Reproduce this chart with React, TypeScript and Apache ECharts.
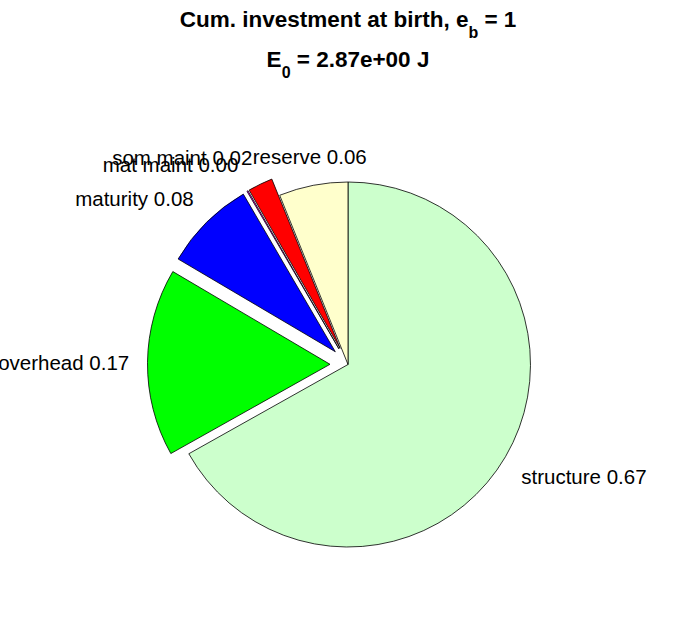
import { useEffect, useRef } from 'react';
import * as echarts from 'echarts';

const names = ['structure', 'overhead', 'maturity', 'mat maint', 'som maint', 'reserve'];
const values = [0.668, 0.166, 0.081, 0.001, 0.022, 0.061];
const colors = ['#ccffcc', '#00ff00', '#0000ff', '#ff00ff', '#ff0000', '#ffffcc'];
const exploded = [false, true, true, true, true, false];
const titleLine1 = ['Cum. investment at birth, e', 'b', ' = 1'];
const titleLine2 = ['E', '0', ' = 2.87e+00 J'];

const FONT = 'Liberation Sans, Arial, Helvetica, sans-serif';
const R = 182.5;

export default function App() {
  const ref = useRef<HTMLDivElement>(null);
  useEffect(() => {
    if (!ref.current) return;
    const chart = echarts.init(ref.current, null, { renderer: 'svg' });
    const total = values.reduce((a, b) => a + b, 0);
    let acc = 0;
    const hAlign: string[] = [];
    const vAlign: string[] = [];
    values.forEach((v) => {
      const m = ((acc + v / 2) / total) * Math.PI * 2;
      acc += v;
      const dx = Math.sin(m);
      const dy = -Math.cos(m);
      hAlign.push(Math.abs(dx) < 0.3 ? 'center' : dx > 0 ? 'left' : 'right');
      vAlign.push(Math.abs(dy) < 0.3 ? 'middle' : dy > 0 ? 'top' : 'bottom');
    });
    const mainStyle = { fontSize: 22.5, fontWeight: 'bold', fontFamily: FONT, color: '#000' };
    const subStyle = { fontSize: 16, fontWeight: 'bold', fontFamily: FONT, color: '#000', padding: [25, 0, 0, 0] };
    const mkTitle = (parts: string[], top: number) => ({
      left: 'center',
      top,
      padding: 0,
      text: `{m|${parts[0]}}{s|${parts[1]}}{m|${parts[2]}}`,
      textStyle: { rich: { m: mainStyle, s: subStyle } },
    });
    chart.setOption({
      animation: false,
      backgroundColor: '#ffffff',
      title: [mkTitle(titleLine1, -1), mkTitle(titleLine2, 39)],
      series: [
        {
          type: 'pie',
          center: [348, 364.5],
          radius: R,
          startAngle: 90,
          clockwise: true,
          selectedMode: 'multiple',
          selectedOffset: 18,
          avoidLabelOverlap: false,
          emphasis: { disabled: true },
          itemStyle: { borderColor: '#000', borderWidth: 0.8 },
          label: {
            show: true,
            position: 'outside',
            fontSize: 20.5,
            fontFamily: FONT,
            color: '#000',
            distanceToLabelLine: 0,
            formatter: (p: any) => `${p.name} ${p.value.toFixed(2)}`,
          },
          labelLine: { show: false, length: R * 0.1, length2: 0 },
          labelLayout: (p: any) => ({ align: hAlign[p.dataIndex], verticalAlign: vAlign[p.dataIndex] }),
          data: names.map((n, i) => ({
            name: n,
            value: values[i],
            selected: exploded[i],
            itemStyle: { color: colors[i] },
          })),
        },
      ],
    });
    return () => chart.dispose();
  }, []);
  return <div ref={ref} style={{ position: 'absolute', left: 0, top: 0, width: 696, height: 618 }} />;
}
